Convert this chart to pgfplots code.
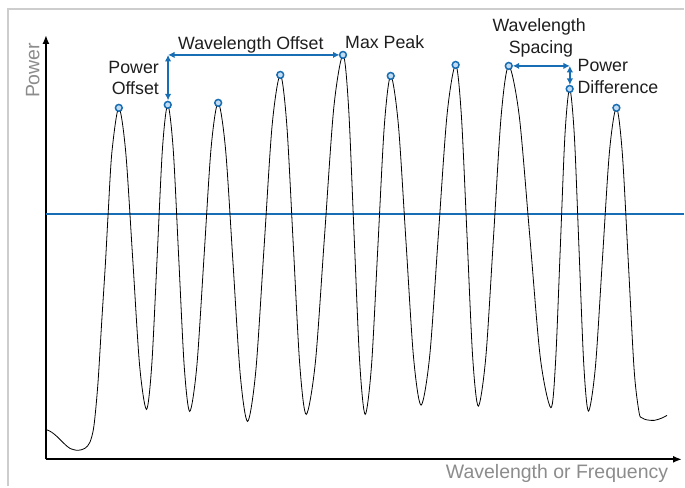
\documentclass[border=0pt]{standalone}
\usepackage{pgfplots}
\pgfplotsset{compat=1.18}
\usepackage{fontspec}
\setmainfont{Liberation Sans}
\usetikzlibrary{arrows.meta}
\definecolor{kblue}{RGB}{23,110,180}
\definecolor{kfill}{RGB}{195,220,242}
\definecolor{labgray}{RGB}{140,140,140}
\definecolor{framegray}{RGB}{205,205,205}
\definecolor{txt}{RGB}{30,30,30}

\begin{document}
\begin{tikzpicture}
\begin{axis}[
  x=1pt, y=1pt,
  xmin=46, xmax=683, ymin=0, ymax=425,
  axis lines=left,
  axis line style={line width=2pt, -{Latex[length=9pt,width=7pt]}},
  ticks=none,
  clip=false,
  xlabel={Wavelength or Frequency},
  ylabel={Power},
  label style={font=\fontsize{19.5}{22}\selectfont, text=labgray, inner sep=0pt},
  xlabel style={at={(axis cs:669.3,-19)}, anchor=base east},
  ylabel style={at={(axis cs:39.5,389.5)}, anchor=base},
]
% page size and frame
\path (axis cs:0,-27) rectangle (axis cs:685,460);
\draw[framegray, line width=2pt] (axis cs:8,-27) -- (axis cs:8,451) -- (axis cs:685,451);

% reference level
\addplot[kblue, line width=2pt] coordinates {(46,246) (685,246)};

% spectrum
\addplot[black, line width=0.8pt, smooth] coordinates {
(46,30) (52,27) (58,22) (64,16) (70,11) (78,9) (85,11) (90,17) (94,33) (98,75)
(102,140) (105.5,195) (108.3,246) (112.1,308) (119,352)
(125.9,307.8) (132.9,201) (139.8,94.2) (146.7,50)
(152,94.8) (157.4,203) (162.7,311.2) (168,355)
(173.5,310) (179,201.5) (184.5,93) (190,48)
(197.1,93.2) (204.3,202.5) (211.4,311.8) (218.5,357)
(225.9,310.3) (233.3,197.5) (240.6,84.7) (248,38)
(256.2,88.8) (264.4,211.5) (272.5,334.2) (280.7,385)
(287.2,335.2) (293.7,215) (300.2,94.8) (306.7,45)
(315.9,97.7) (325.1,225) (334.3,352.3) (343.5,405)
(349.1,352.3) (354.6,225) (360.2,97.7) (365.7,45)
(372.1,94.6) (378.5,214.5) (384.9,334.4) (391.3,384)
(398.9,335.7) (406.5,219.2) (414.1,102.6) (421.7,54.3)
(430.4,104.2) (439,224.7) (447.7,345.1) (456.3,395)
(462,345) (467.7,224.2) (473.3,103.3) (479,53.3)
(486.6,103.2) (494.3,223.7) (501.9,344.1) (509.5,394)
(520,343.9) (530.6,222.9) (541.1,101.8) (551.7,51.7)
(556.4,98.1) (561.1,211.4) (565.8,325.3) (570.5,371)
(575.2,323.8) (579.9,209.6) (584.6,95.5) (589.3,48.3)
(596.3,92.8) (603.3,200.2) (610.3,307.5) (617.3,352)
(623.2,306.9) (629.2,198) (635.1,89.1) (640,47) (643,41.5) (648,39.5)
(655,39) (662,41) (668,44)
};

% peak markers
\addplot[only marks, mark=*, mark size=3.4pt,
  mark options={draw=kblue, fill=kfill, line width=1.5pt}] coordinates {
(119,352) (168,355) (218.5,357) (280.7,385) (343.5,405)
(391.3,384) (456.3,395) (509.5,394) (570.5,371) (617.3,352)
};

% annotations
\begin{scope}[kblue, line width=1.8pt, {Latex[length=6.5pt,width=6.5pt]}-{Latex[length=6.5pt,width=6.5pt]}]
\draw (axis cs:168.3,405) -- (axis cs:340,405);
\draw (axis cs:168.3,405) -- (axis cs:168.3,359.5);
\draw (axis cs:513.5,394) -- (axis cs:570.7,394);
\draw (axis cs:570.7,394) -- (axis cs:570.7,375);
\end{scope}
\begin{scope}[every node/.style={font=\fontsize{17.8}{20}\selectfont, text=txt, inner sep=0pt}]
\node[anchor=base] at (axis cs:251.2,410.7) {Wavelength Offset};
\node[anchor=base west] at (axis cs:345.5,411.7) {Max Peak};
\node[anchor=base east] at (axis cs:159.3,386.7) {Power};
\node[anchor=base east] at (axis cs:159.3,365.7) {Offset};
\node[anchor=base] at (axis cs:540,428.3) {Wavelength};
\node[anchor=base] at (axis cs:541.7,406.7) {Spacing};
\node[anchor=base west] at (axis cs:578.3,388.3) {Power};
\node[anchor=base west] at (axis cs:578.3,366.7) {Difference};
\end{scope}
\end{axis}
\end{tikzpicture}
\end{document}
